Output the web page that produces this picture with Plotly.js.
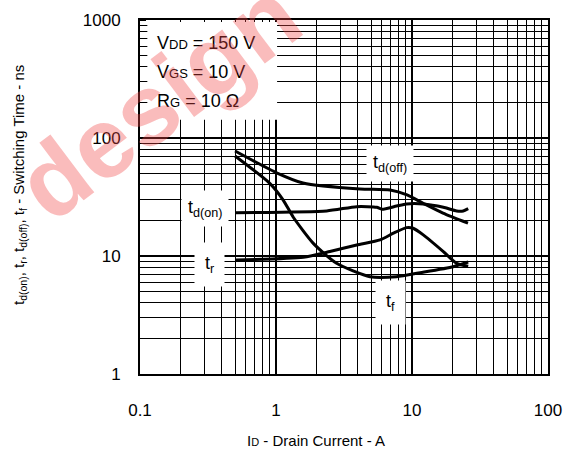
<!DOCTYPE html>
<html>
<head>
<meta charset="utf-8">
<script src="https://cdn.plot.ly/plotly-3.0.1.min.js"></script>
<style>html,body{margin:0;padding:0;background:#fff;}#chart{width:576px;height:459px;}</style>
</head>
<body>
<div id="chart"></div>
<script>
// Drain current (A) and switching times (ns)
var tdoffX = [0.5, 1.02, 1.58, 4.15, 6.9, 9.2, 12.0, 16.9, 25.8];
var tdoffY = [77.6, 50.5, 41.6, 37.0, 36.2, 32.9, 28.1, 23.1, 19.0];

var tfX = [0.5, 0.9, 1.13, 1.34, 1.88, 2.79, 4.91, 7.7, 11.5, 20.1, 25.9];
var tfY = [70.4, 41.3, 29.8, 21.3, 12.8, 8.67, 6.68, 6.68, 7.22, 8.12, 8.9];

var trX = [0.5, 1.59, 2.49, 3.92, 5.82, 7.3, 9.1, 10.2, 12.1, 17.0, 21.3, 25.9];
var trY = [9.25, 9.75, 10.9, 12.4, 13.7, 15.6, 17.4, 17.2, 15.1, 10.9, 8.67, 8.2];

var tdonX = [0.5, 2.36, 3.92, 5.5, 6.0, 7.7, 9.1, 12.1, 17.0, 21.3, 23.8, 25.9];
var tdonY = [23.3, 24.1, 26.2, 25.9, 24.9, 26.5, 27.6, 27.6, 25.9, 24.1, 24.1, 25.2];

var xTickVals = [0.1, 1, 10, 100];
var xTickText = ['0.1', '1', '10', '100'];
var yTickVals = [1, 10, 100, 1000];
var yTickText = ['1', '10', '100', '1000'];

var conditions = [
  'V<span style="font-size:13px">DD</span> = 150 V',
  'V<span style="font-size:13px">GS</span> = 10 V',
  'R<span style="font-size:13px">G</span> = 10 Ω'
];
var curveLabels = ['t<sub>d(off)</sub>', 't<sub>d(on)</sub>', 't<sub>r</sub>', 't<sub>f</sub>'];
var curveLabelX = [6.9, 0.30, 0.327, 6.9];
var curveLabelY = [61, 25.5, 8.4, 4.0];

var FONT = 'Liberation Sans, Arial, Helvetica, sans-serif';
var lineStyle = {color: '#000', width: 3, shape: 'spline', smoothing: 0.6};

var traces = [
  {x: tdoffX, y: tdoffY, mode: 'lines', line: lineStyle, hoverinfo: 'skip'},
  {x: tfX, y: tfY, mode: 'lines', line: lineStyle, hoverinfo: 'skip'},
  {x: trX, y: trY, mode: 'lines', line: lineStyle, hoverinfo: 'skip'},
  {x: tdonX, y: tdonY, mode: 'lines', line: lineStyle, hoverinfo: 'skip'}
];

var annotations = [];
for (var i = 0; i < conditions.length; i++) {
  annotations.push({
    xref: 'paper', yref: 'paper', x: 0.037, y: 0.936 - i * 0.083,
    xanchor: 'left', yanchor: 'middle', showarrow: false,
    text: conditions[i], font: {family: FONT, size: 18, color: '#000'}
  });
}
for (var j = 0; j < curveLabels.length; j++) {
  annotations.push({
    x: Math.log10(curveLabelX[j]), y: Math.log10(curveLabelY[j]),
    xref: 'x', yref: 'y', showarrow: false,
    text: curveLabels[j], font: {family: FONT, size: 18, color: '#000'},
    bgcolor: '#fff', borderpad: (j >= 2 ? 10 : 6)
  });
}
// axis titles
annotations.push({
  xref: 'paper', yref: 'paper', x: 0.431, y: -0.189,
  xanchor: 'center', yanchor: 'middle', showarrow: false,
  text: 'I<span style="font-size:11px">D</span> - Drain Current - A', font: {family: FONT, size: 15, color: '#000'}
});
annotations.push({
  xref: 'paper', yref: 'paper', x: -0.294, y: 0.534,
  xanchor: 'center', yanchor: 'middle', showarrow: false, textangle: -90,
  text: 't<sub>d(on)</sub>, t<sub>r</sub>, t<sub>d(off)</sub>, t<sub>f</sub> - Switching Time - ns',
  font: {family: FONT, size: 15, color: '#000'}
});
// watermark (semi-transparent, on top)
annotations.push({
  xref: 'paper', yref: 'paper', x: 0.045, y: 0.775,
  xanchor: 'center', yanchor: 'middle', showarrow: false, textangle: -37,
  text: '<b>design</b>', font: {family: FONT, size: 100, color: 'rgba(240,70,70,0.36)'}
});

var layout = {
  width: 576, height: 459,
  margin: {l: 140, r: 28, t: 20, b: 85},
  paper_bgcolor: '#fff', plot_bgcolor: '#fff',
  showlegend: false,
  font: {family: FONT, size: 17, color: '#000'},
  xaxis: {
    type: 'log', range: [-1, 2],
    tickvals: xTickVals, ticktext: xTickText,
    ticks: '', ticklabelstandoff: 20,
    showgrid: true, gridcolor: '#000', gridwidth: 1.3,
    minor: {showgrid: true, gridcolor: '#000', gridwidth: 1, dtick: 'D1', ticks: ''},
    showline: true, linecolor: '#000', linewidth: 2, mirror: true,
    zeroline: false, tickfont: {family: FONT, size: 17, color: '#000'}
  },
  yaxis: {
    type: 'log', range: [0, 3],
    tickvals: yTickVals, ticktext: yTickText,
    ticks: '', ticklabelstandoff: 14,
    showgrid: true, gridcolor: '#000', gridwidth: 1.3,
    minor: {showgrid: true, gridcolor: '#000', gridwidth: 1, dtick: 'D1', ticks: 'inside', ticklen: 6, tickcolor: '#000'},
    showline: true, linecolor: '#000', linewidth: 2, mirror: true,
    zeroline: false, tickfont: {family: FONT, size: 17, color: '#000'}
  },
  shapes: [
    {type: 'rect', xref: 'paper', yref: 'paper', x0: 0.018, x1: 0.336, y0: 0.718, y1: 0.994,
     fillcolor: '#fff', line: {width: 0}, layer: 'above'}
  ],
  annotations: annotations
};

Plotly.newPlot('chart', traces, layout, {staticPlot: true, displayModeBar: false});
</script>
</body>
</html>
